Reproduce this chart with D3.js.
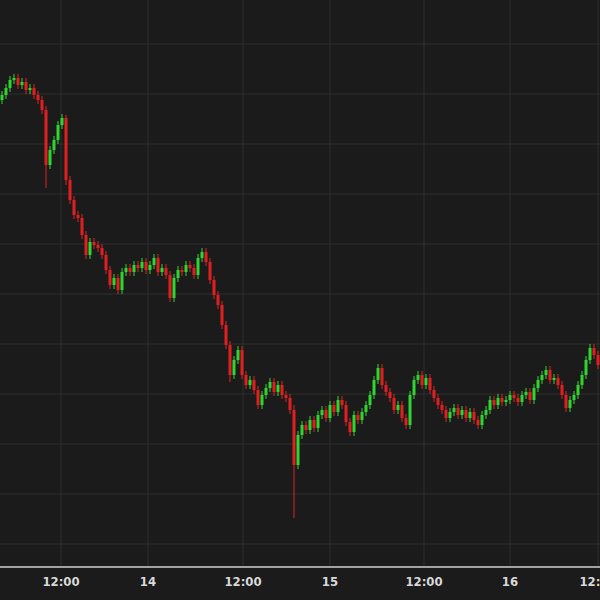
<!DOCTYPE html><html><head><meta charset="utf-8">
<script src="https://cdn.jsdelivr.net/npm/d3@7"></script>
<style>body{margin:0;background:#1b1b1b}</style></head><body><svg id="c" width="600" height="600"></svg>
<script>
const closes=[5.05,5.12,5.20,5.22,5.15,5.18,5.10,5.12,5.05,5.00,4.90,4.35,4.50,4.60,4.75,4.82,4.20,4.00,3.85,3.82,3.65,3.45,3.58,3.55,3.52,3.45,3.30,3.15,3.22,3.10,3.28,3.32,3.28,3.35,3.32,3.38,3.30,3.35,3.42,3.28,3.32,3.25,3.02,3.22,3.30,3.28,3.35,3.32,3.25,3.42,3.48,3.38,3.20,3.05,2.95,2.75,2.55,2.25,2.40,2.50,2.25,2.15,2.20,2.10,1.95,2.05,2.12,2.18,2.08,2.15,2.05,2.02,1.90,1.35,1.65,1.75,1.70,1.80,1.72,1.85,1.90,1.82,1.95,1.88,2.00,1.95,1.78,1.68,1.85,1.80,1.88,1.95,2.05,2.20,2.32,2.15,2.08,2.02,1.90,1.95,1.82,1.75,2.05,2.20,2.25,2.15,2.22,2.10,2.02,1.95,1.90,1.82,1.88,1.92,1.85,1.90,1.82,1.88,1.80,1.75,1.85,1.90,2.00,1.95,2.02,1.98,2.00,2.05,2.02,1.98,2.05,2.08,2.00,2.12,2.20,2.25,2.30,2.20,2.22,2.15,2.05,1.92,2.00,2.05,2.15,2.25,2.40,2.52,2.45,2.35];
const firstOpen=5.00;
const specialLows={11:4.12,16:4.15,73:0.82,42:2.98,57:2.18};
const specialHighs={73:1.95,16:4.85};
const gridLevels=[0.56,1.06,1.56,2.06,2.56,3.06,3.56,4.06,4.56,5.06,5.56];
const tickIdx=[14.75,36.5,60.25,82,105.5,127,149];
const tickLabels=["12:00","14","12:00","15","12:00","16","12:00"];

const svg=d3.select("#c");
const W=600,axisY=567;
const x=d3.scaleLinear().domain([0,closes.length-1]).range([2,598]);
const y=d3.scaleLinear().domain([0.33,6]).range([567,0]);
svg.append("rect").attr("width",W).attr("height",600).attr("fill","#1b1b1b");
svg.selectAll(".hg").data(gridLevels).join("line").attr("x1",0).attr("x2",W)
 .attr("y1",d=>y(d)).attr("y2",d=>y(d)).attr("stroke","#2f2f2f");
svg.selectAll(".vg").data(tickIdx).join("line").attr("y1",0).attr("y2",axisY)
 .attr("x1",d=>x(d)).attr("x2",d=>x(d)).attr("stroke","#2f2f2f");
const data=closes.map((c,i)=>{const o=i?closes[i-1]:firstOpen;
 return {i,o,c,h:specialHighs[i]??Math.max(o,c)+0.04,l:specialLows[i]??Math.min(o,c)-0.04};});
const col=d=>d.c>=d.o?"#2fd62f":"#e02020";
svg.selectAll(".w").data(data).join("line").attr("x1",d=>x(d.i)).attr("x2",d=>x(d.i))
 .attr("y1",d=>y(d.h)).attr("y2",d=>y(d.l)).attr("stroke",col).attr("stroke-width",1);
svg.selectAll(".b").data(data).join("rect").attr("x",d=>x(d.i)-1.5).attr("width",3)
 .attr("y",d=>y(Math.max(d.o,d.c))).attr("height",d=>Math.max(1,Math.abs(y(d.o)-y(d.c))))
 .attr("fill",col);
svg.append("rect").attr("x",0).attr("y",axisY).attr("width",W).attr("height",33).attr("fill","#1b1b1b");
svg.append("line").attr("x1",0).attr("x2",W).attr("y1",axisY).attr("y2",axisY).attr("stroke","#d0d0d0").attr("stroke-width",1.5);
svg.selectAll(".tl").data(tickIdx).join("text").attr("x",d=>x(d)).attr("y",axisY+19)
 .attr("text-anchor","middle").attr("fill","#d8d8d8").attr("font-family","Liberation Sans Narrow, DejaVu Sans Condensed, sans-serif")
 .attr("font-size",13).attr("font-weight","bold").text((d,i)=>tickLabels[i]);
</script></body></html>
